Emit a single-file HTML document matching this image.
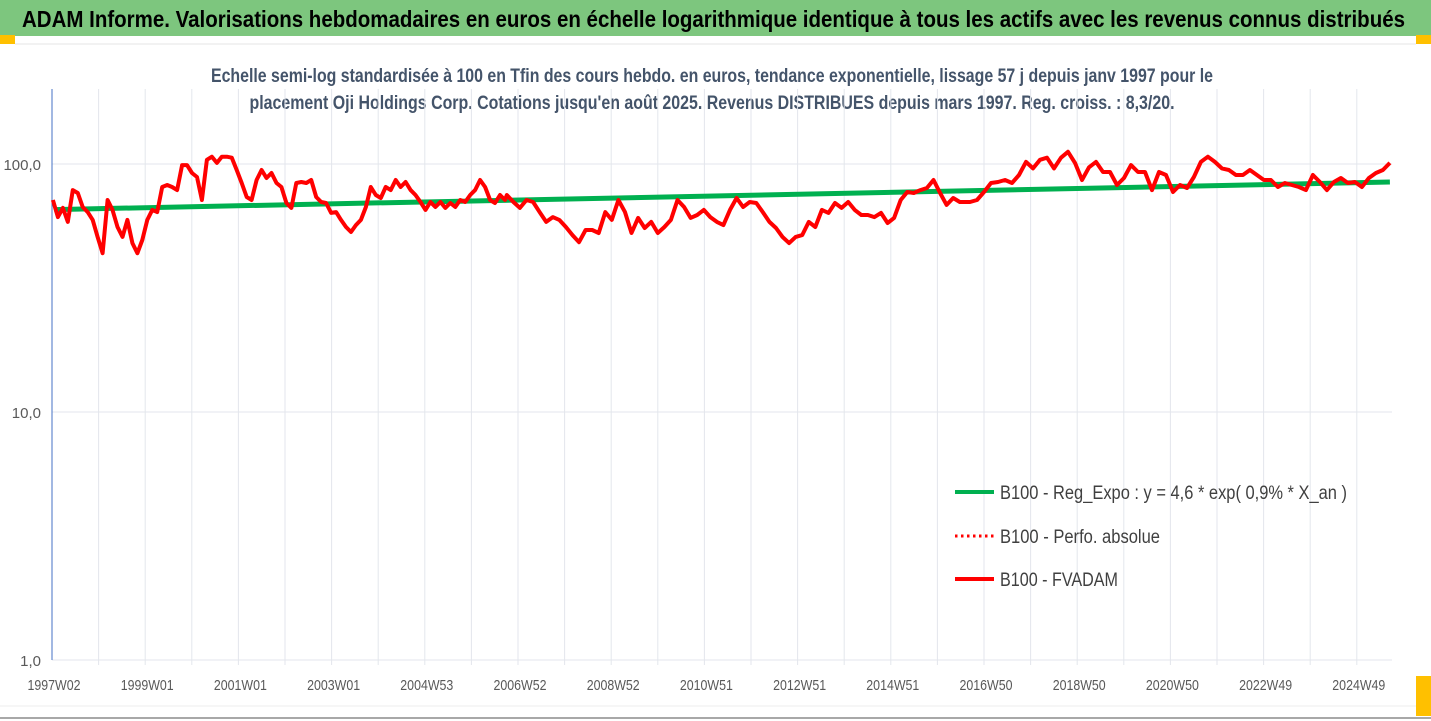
<!DOCTYPE html>
<html><head><meta charset="utf-8"><style>
body{margin:0;background:#fff;}
svg{display:block;font-family:"Liberation Sans",sans-serif;}
</style></head><body>
<svg id="chart" width="1431" height="721" viewBox="0 0 1431 721" xmlns="http://www.w3.org/2000/svg">
<rect x="0" y="0" width="1431" height="721" fill="#fff"/>
<rect x="0" y="0" width="1431" height="36" fill="#7dc67e"/>
<text x="22" y="27" font-size="23" font-weight="bold" fill="#000" textLength="1383" lengthAdjust="spacingAndGlyphs">ADAM Informe. Valorisations hebdomadaires en euros en échelle logarithmique identique à tous les actifs avec les revenus connus distribués</text>
<rect x="0" y="35" width="15" height="9" fill="#ffc000"/>
<rect x="1416" y="35" width="15" height="9" fill="#ffc000"/>
<rect x="1416" y="676" width="15" height="40" fill="#ffc000"/>
<line x1="15" y1="44" x2="1416" y2="44" stroke="#e6e6e6"/>
<line x1="0" y1="718" x2="1431" y2="718" stroke="#8c8c8c" stroke-width="1.5"/>
<line x1="0" y1="706" x2="1416" y2="706" stroke="#ececec"/>
<text x="712" y="82" text-anchor="middle" font-size="19" font-weight="bold" fill="#44546a" textLength="1002" lengthAdjust="spacingAndGlyphs">Echelle semi-log standardisée à 100 en Tfin des cours hebdo. en euros, tendance exponentielle, lissage 57 j depuis janv 1997 pour le</text>
<text x="712" y="109" text-anchor="middle" font-size="19" font-weight="bold" fill="#44546a" textLength="925" lengthAdjust="spacingAndGlyphs">placement Oji Holdings Corp. Cotations jusqu'en août 2025. Revenus DISTRIBUES depuis mars 1997. Reg. croiss. : 8,3/20.</text>
<g id="grid"></g>
<g id="axes"></g>
<g id="series"></g>
<g>
  <line x1="955" y1="492" x2="994" y2="492" stroke="#00b050" stroke-width="4"/>
  <text x="1000" y="499" font-size="19" fill="#404040" textLength="347" lengthAdjust="spacingAndGlyphs">B100 - Reg_Expo : y = 4,6 * exp( 0,9% *  X_an )</text>
  <line x1="955" y1="536" x2="994" y2="536" stroke="#ff0000" stroke-width="3" stroke-dasharray="2.5,3.5"/>
  <text x="1000" y="543" font-size="19" fill="#404040" textLength="160" lengthAdjust="spacingAndGlyphs">B100 - Perfo. absolue</text>
  <line x1="955" y1="579" x2="994" y2="579" stroke="#ff0000" stroke-width="4"/>
  <text x="1000" y="586" font-size="19" fill="#404040" textLength="118" lengthAdjust="spacingAndGlyphs">B100 - FVADAM</text>
</g>
</svg>
<script>
// ---- data ----
const xTickLabels = ["1997W02","1999W01","2001W01","2003W01","2004W53","2006W52","2008W52","2010W51","2012W51","2014W51","2016W50","2018W50","2020W50","2022W49","2024W49"];
const yTickValues = [1, 10, 100];
const yTickLabels = ["1,0","10,0","100,0"];
const seg1Range = [1997.02, 2006.72];
const seg1Values = [71.6,61.1,66.5,58.4,78.5,76.4,67.1,64,59.5,50.8,43.7,71.6,65.3,55.7,50.8,59.5,48,43.7,49.4,59.5,65.3,64,80.8,82.3,80.8,78.5,99,99,92,88.6,71.6,104,107,101,107,107,106,94.6,83.8,73.6,71.6,86.2,94.6,87.8,92,83.8,80.8,69.6,66.5,83.8,84.6,83.8,86.2,73.6,70.3,69.6,63.5,64,59.5,55.7,53.2,56.7,59.5,67.1,80.8,75,72.9,80.8,78.5,86.2,80.8,84.6,78.5,75,70.3,65.3,70.3,67.1,70.3,66.5,69.6,67.1,71.6,70.3,75,78.5,86.2,80.8,71.6,69.6,75,71.6];
const seg2Range = [2006.76, 2016.48];
const seg2Values = [75,70.3,66.5,71.6,70.3,64,58.4,61.1,59.5,55.7,51.7,48.4,54.2,54.2,52.7,64,59.5,71.6,64,52.7,60.6,55.2,58.4,52.7,55.7,59.5,71.6,67.1,60.6,62.3,65.3,61.1,58.4,56.7,65.3,72.9,67.1,70.3,69.6,64,58.4,55.2,50.8,48,50.8,51.7,58.4,55.7,65.3,63.5,69.6,66.5,70.3,65.3,62.3,62.3,61.1,63.5,57.8,60.6,71.6,77.1,76.4,78.5,80,86.2,76.4,68.4,72.9,70.3];
const seg3Range = [2016.70, 2025.71];
const seg3Values = [70.3,71.6,77.1,83.8,84.6,86.2,83.8,90.3,102,96,104,106,96,106,112,101,86.2,97,102,92.8,92.8,82.3,87.8,99,92.8,92.8,78.5,92.8,90.3,77.1,82.3,80,88.6,102,107,102,96,94.6,90.3,90.3,94.6,90.3,86.2,86.2,80.8,83.8,82.3,80.8,78.5,90.3,84.6,78.5,84.6,87.8,83.8,84.6,80.8,87.8,92,94.6,101];
const trendYears = [1997.05, 2025.71];
const trendValues = [65.5, 84.6];

// ---- axes ----
const NS = "http://www.w3.org/2000/svg";
const X0 = 52, PXYEAR = 46.6, START = 1997.0;
const Y100 = 164, DEC = 248, PLOT_TOP = 89, PLOT_BOT = 660, PLOT_RIGHT = 1392;
function xScale(yr){ return X0 + (yr - START) * PXYEAR; }
function yScale(v){ return Y100 - (Math.log10(v) - 2) * DEC; }
function mk(tag, attrs, parent){ const e = document.createElementNS(NS, tag); for (const k in attrs) e.setAttribute(k, attrs[k]); parent.appendChild(e); return e; }

const grid = document.getElementById('grid');
const axes = document.getElementById('axes');
for (let k = 1; k <= 28; k++) {
  const x = xScale(START + k);
  const l = mk('line', {x1:x, y1:PLOT_TOP, x2:x, y2:PLOT_BOT+5, stroke:'#e3e6ec', 'stroke-width':1}, grid);
  
  
}
yTickValues.forEach((v, i) => {
  const y = yScale(v);
  const l = mk('line', {x1:X0, y1:y, x2:PLOT_RIGHT, y2:y, stroke:'#e3e6ec', 'stroke-width':1}, grid);
  
  
  const t = mk('text', {x:41, y:y+6, 'text-anchor':'end', 'font-size':15, fill:'#595959'}, axes);
  t.textContent = yTickLabels[i];
  
  
});
xTickLabels.forEach((lab, i) => {
  const x = xScale(START + i * 2);
  const t = mk('text', {x:x+2, y:690, 'text-anchor':'middle', 'font-size':15, fill:'#595959', textLength:53, lengthAdjust:'spacingAndGlyphs'}, axes);
  t.textContent = lab;
  
  
});
const ax = mk('line', {x1:X0, y1:PLOT_TOP, x2:X0, y2:PLOT_BOT, stroke:'#4472c4', 'stroke-width':1}, axes);



// ---- series ----
const series = document.getElementById('series');
const tr = mk('line', {x1:xScale(trendYears[0]), y1:yScale(trendValues[0]), x2:xScale(trendYears[1]), y2:yScale(trendValues[1]), stroke:'#00b050', 'stroke-width':5}, series);



let pts = [];
[[seg1Range, seg1Values],[seg2Range, seg2Values],[seg3Range, seg3Values]].forEach(([r, vals]) => {
  const n = vals.length;
  vals.forEach((v, i) => {
    const yr = r[0] + (r[1] - r[0]) * i / (n - 1);
    pts.push(xScale(yr).toFixed(1) + ',' + yScale(v).toFixed(1));
  });
});
const fv = mk('polyline', {points:pts.join(' '), fill:'none', stroke:'#ff0000', 'stroke-width':4, 'stroke-linejoin':'round'}, series);


</script>
</body></html>
